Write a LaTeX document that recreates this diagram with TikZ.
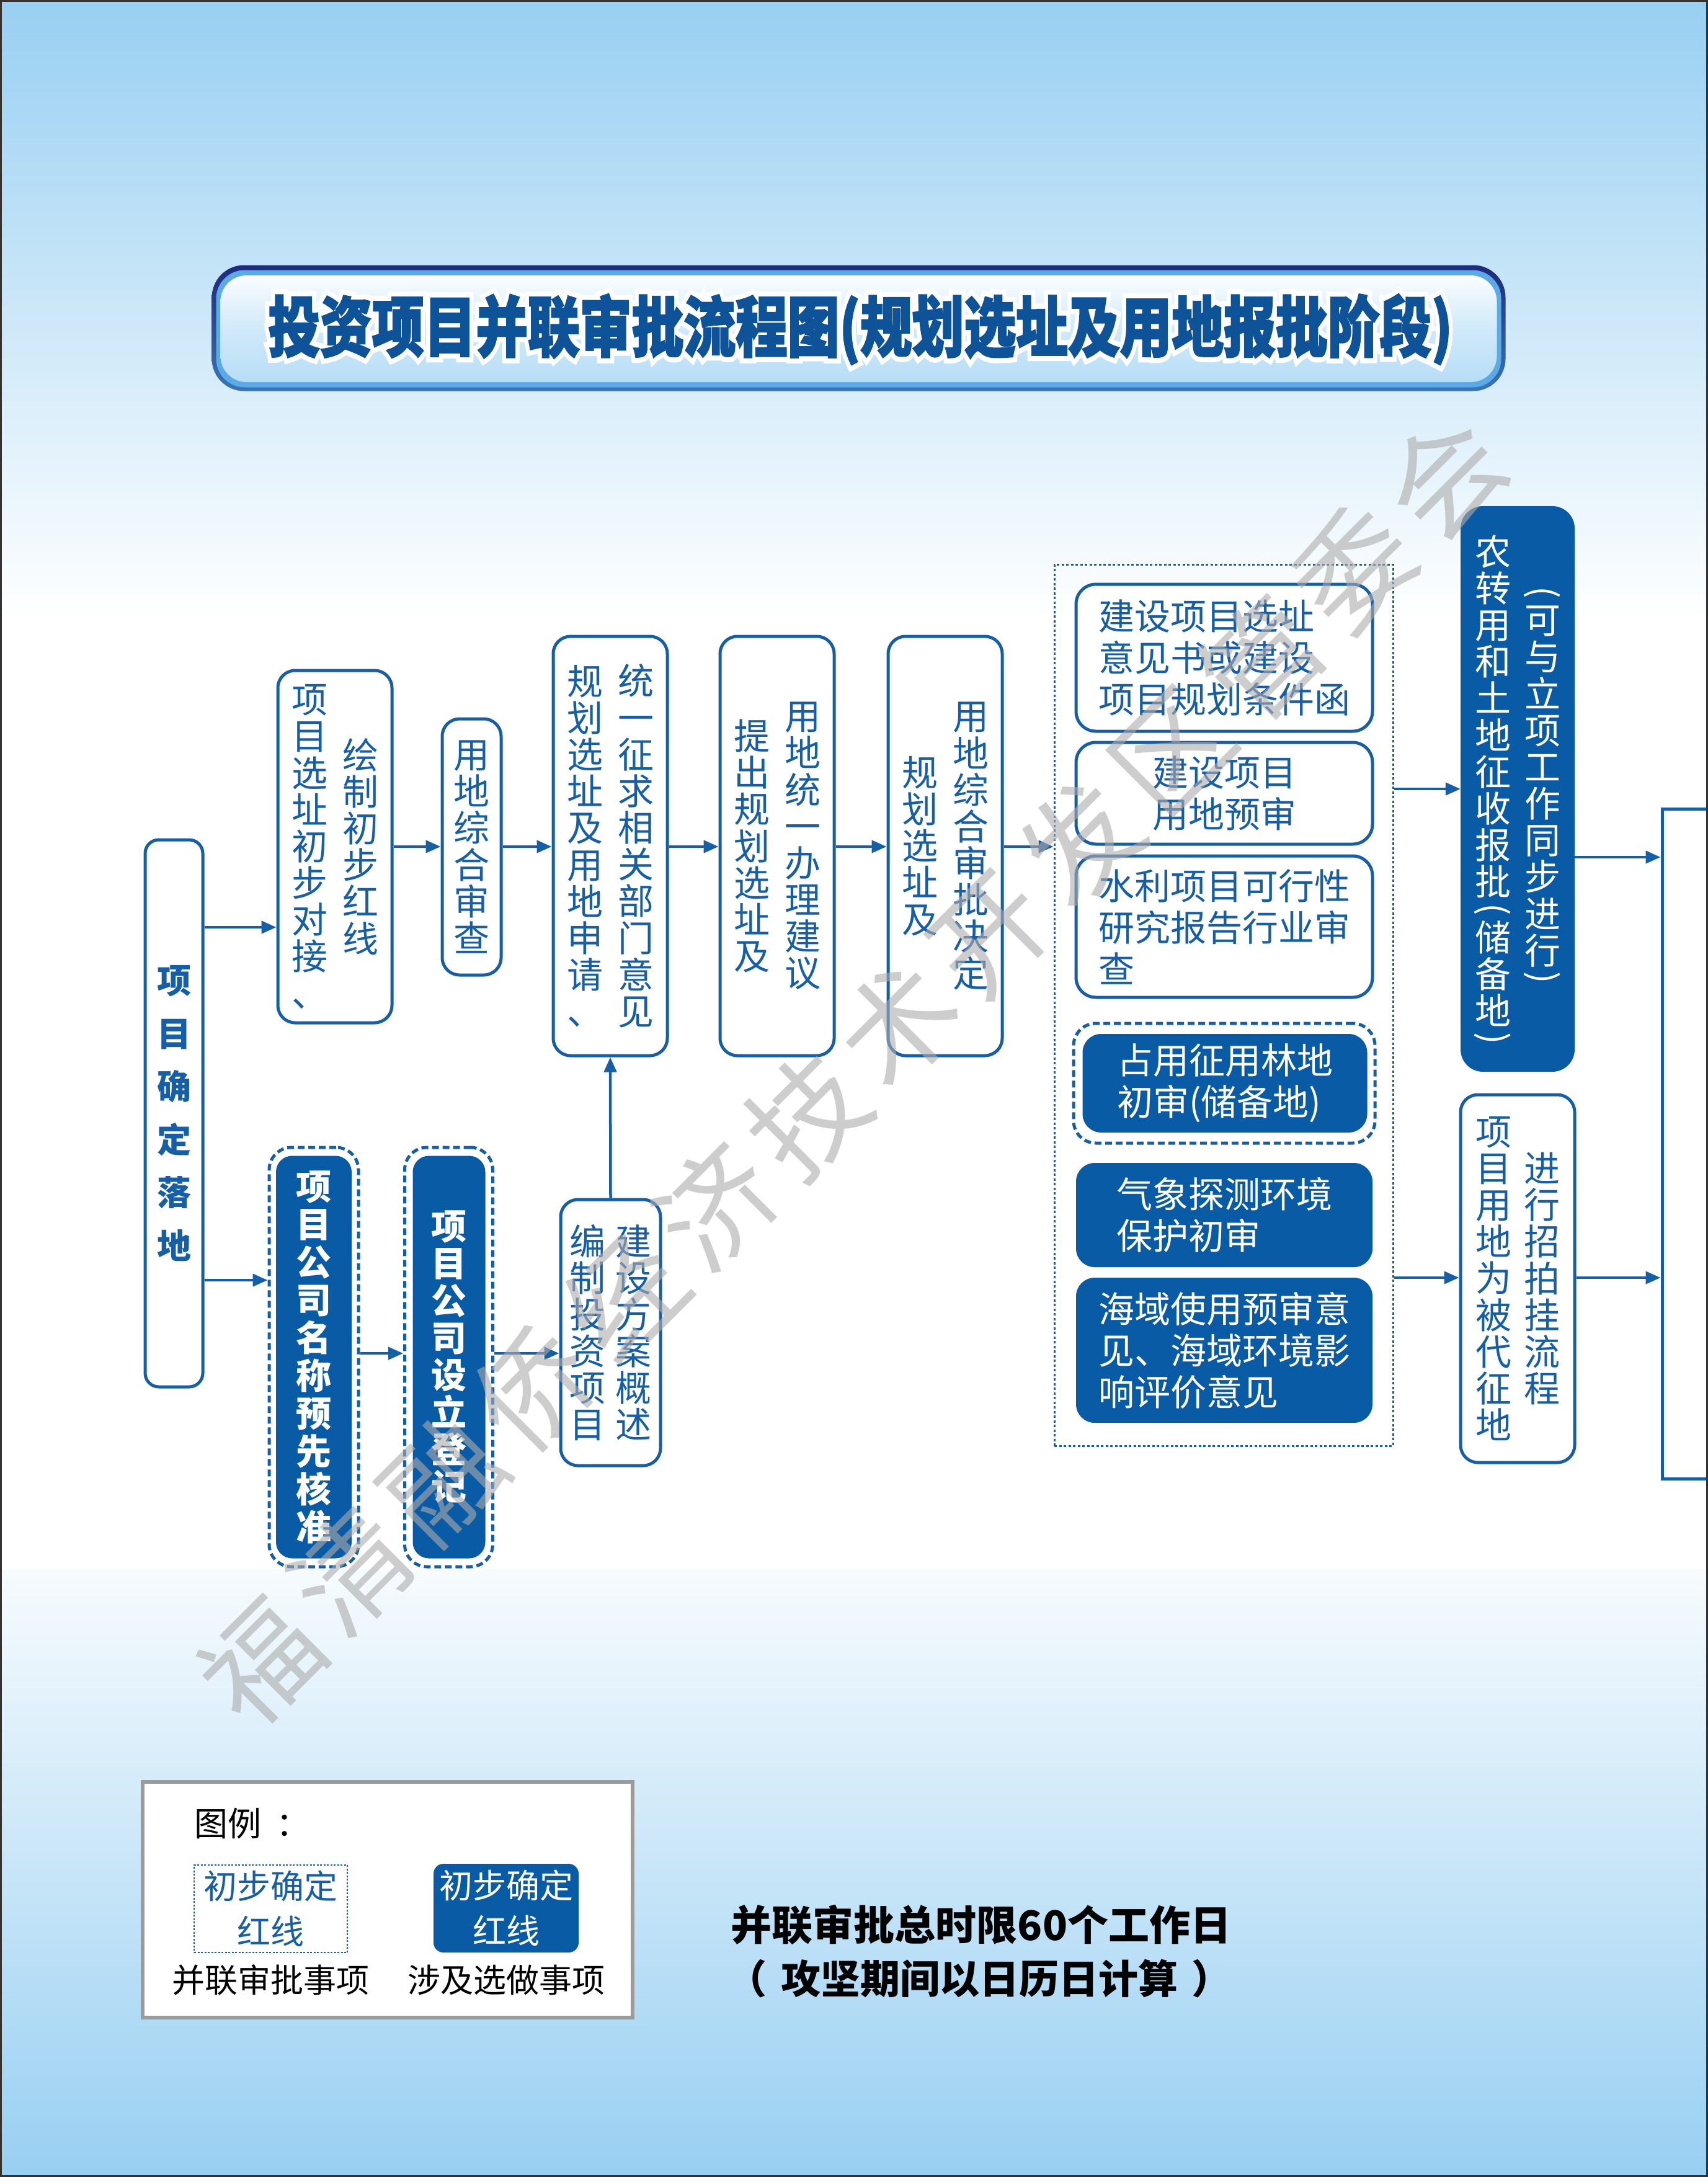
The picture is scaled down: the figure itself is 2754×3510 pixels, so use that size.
\documentclass[tikz,border=0pt]{standalone}
\usepackage{fontspec}
\usepackage{graphicx}
\setmainfont{Noto Sans CJK SC}
\usetikzlibrary{arrows.meta}
\definecolor{mb}{RGB}{22,94,166}
\definecolor{fb}{RGB}{10,91,165}
\definecolor{bgblue}{RGB}{152,207,242}
\definecolor{navy}{RGB}{30,42,125}
\definecolor{ringblue}{RGB}{90,170,232}
\definecolor{titleblue}{RGB}{14,82,152}
\definecolor{leggray}{RGB}{155,155,155}
\definecolor{wmgray}{RGB}{172,172,172}

\ExplSyntaxOn
\dim_new:N \l__vc_skip_dim
\cs_new_protected:Npn \__vc_paren:n #1
  {
    \vskip -0.25em
    \hbox_to_wd:nn {1em} { \hss \raisebox{0.07em}{\rotatebox[origin=c]{-90}{#1}} \hss }
    \vskip -0.25em
  }
\cs_new_protected:Npn \__vc_item:n #1
  {
    \str_case:nnF {#1}
      {
        { ( } { \__vc_paren:n { ( } }
        { ) } { \__vc_paren:n { ) } }
      }
      { \hbox_to_wd:nn {1em} { \hss #1 \hss } }
  }
\NewDocumentCommand \vcol { O{1.02em} m }
  {
    \parbox[c]{1em}
      {
        \dim_set:Nn \l__vc_skip_dim {#1}
        \skip_set:Nn \baselineskip { \l__vc_skip_dim }
        \dim_set:Nn \lineskiplimit { -1000pt }
        \skip_set:Nn \lineskip { 0pt }
        \tl_map_inline:nn {#2} { \__vc_item:n {##1} }
      }
  }
\NewDocumentCommand \spreadtext { m m }
  { \tl_map_inline:nn {#2} { \makebox[#1]{##1} } }
\ExplSyntaxOff
\newcommand{\twocol}[3][24pt]{\vcol{#2}\hspace{#1}\vcol{#3}}
\newcommand{\titletext}[1]{\scalebox{0.79}[1]{\bfseries\fontsize{106}{110}\selectfont\addfontfeature{FakeBold=#1}投资项目并联审批流程图(规划选址及用地报批阶段)}}

\begin{document}
\begin{tikzpicture}[x=1pt,y=-1pt,
  wbox/.style={draw=mb, line width=5pt, fill=white, rounded corners=28pt, inner sep=0pt, text=mb, font=\fontsize{58}{59}\selectfont},
  bluebox/.style={draw=none, fill=fb, rounded corners=30pt, inner sep=0pt, text=white, font=\fontsize{58}{59}\selectfont},
  dashbox/.style={draw=mb, line width=5pt, dash pattern=on 11pt off 6pt, rounded corners=36pt, inner sep=0pt},
  gtext/.style={align=left, font=\fontsize{58}{67}\selectfont},
  arr/.style={draw=mb, line width=4.5pt, -{Triangle[length=24pt,width=20pt]}},
  legtext/.style={inner sep=0pt, text=black, font=\fontsize{53}{60}\selectfont}
]
\useasboundingbox (0,0) rectangle (2754,3510);
\clip (0,0) rectangle (2754,3510);
% background
\shade[top color=bgblue, bottom color=white] (0,0) rectangle (2754,1000);
\fill[white] (0,999) rectangle (2754,2531);
\shade[top color=white!92!bgblue, bottom color=bgblue] (0,2530) rectangle (2754,3510);

% title banner
\node[rounded corners=52pt, minimum width=2086pt, minimum height=203pt, inner sep=0pt, top color=navy, bottom color=mb!85!white] (banner) at (1384.5,529) {};
\node[rounded corners=46pt, minimum width=2072pt, minimum height=189pt, inner sep=0pt, fill=ringblue] (ring) at (1384.5,530) {};
\node[rounded corners=42pt, minimum width=2058pt, minimum height=172pt, inner sep=0pt, top color=white!95!bgblue, bottom color=bgblue!70!white, middle color=bgblue!45!white] (gloss) at (1384.5,530) {};
\node[text=white, inner sep=0pt] (Tw) at (1387,531) {\titletext{18}};
\node[text=titleblue, inner sep=0pt] (T) at (1387,531) {\titletext{2.5}};

% left column
\node[wbox, minimum width=93pt, minimum height=882pt, rounded corners=22pt, font=\bfseries\fontsize{55}{60}\selectfont] (A) at (280.5,1795) {\vcol[85.5pt]{项目确定落地}};

% top row
\node[wbox, minimum width=184pt, minimum height=568pt] (B) at (540,1365) {\twocol{项目选址初步对接、}{绘制初步红线}};
\node[wbox, minimum width=95pt, minimum height=413pt] (C) at (760.5,1365.5) {\vcol{用地综合审查}};
\node[wbox, minimum width=184pt, minimum height=676pt] (D) at (984,1364) {\twocol{规划选址及用地申请、}{统一征求相关部门意见}};
\node[wbox, minimum width=184pt, minimum height=676pt] (E) at (1253,1364) {\twocol{提出规划选址及}{用地统一办理建议}};
\node[wbox, minimum width=184pt, minimum height=676pt] (F) at (1524,1364) {\twocol{规划选址及}{用地综合审批决定}};

% container
\node[draw=mb, line width=3pt, dash pattern=on 4pt off 3.5pt, minimum width=546pt, minimum height=1421pt, inner sep=0pt] (Cont) at (1973,1620.5) {};
\node[wbox, rounded corners=32pt, minimum width=478pt, minimum height=237pt, gtext] (G1) at (1974,1060.5) {建设项目选址\\意见书或建设\\项目规划条件函};
\node[wbox, rounded corners=32pt, minimum width=478pt, minimum height=164pt, gtext, align=center] (G2) at (1974,1279) {建设项目\\用地预审};
\node[wbox, rounded corners=32pt, minimum width=478pt, minimum height=228pt, gtext] (G3) at (1974,1494) {水利项目可行性\\研究报告行业审\\查};
\node[dashbox, minimum width=486pt, minimum height=193pt] (G4o) at (1974,1746.5) {};
\node[bluebox, gtext, minimum width=459pt, minimum height=159pt] (G4) at (1975,1746.5) {占用征用林地\\初审(储备地)};
\node[bluebox, gtext, minimum width=478pt, minimum height=168pt] (G5) at (1974,1959) {气象探测环境\\保护初审};
\node[bluebox, gtext, minimum width=478pt, minimum height=234pt] (G6) at (1974,2177) {海域使用预审意\\见、海域环境影\\响评价意见};

% right column
\node[bluebox, rounded corners=36pt, minimum width=184pt, minimum height=912pt] (H) at (2447,1272) {\twocol[22pt]{农转用和土地征收报批(储备地)}{(可与立项工作同步进行)}};
\node[wbox, minimum width=184pt, minimum height=593pt] (I) at (2447,2061.5) {\twocol[20pt]{项目用地为被代征地}{进行招拍挂流程}};
\node[wbox, rounded corners=0pt, minimum width=200pt, minimum height=1080pt] (J) at (2780,1844) {};

% bottom row
\node[dashbox, minimum width=144pt, minimum height=676pt] (Ko) at (506,2188) {};
\node[bluebox, rounded corners=26pt, minimum width=122pt, minimum height=649pt, font=\bfseries\fontsize{57}{60}\selectfont] (K) at (506,2188) {\vcol[61pt]{项目公司名称预先核准}};
\node[dashbox, minimum width=142pt, minimum height=676pt] (Lo) at (723.5,2188) {};
\node[bluebox, rounded corners=26pt, minimum width=117pt, minimum height=649pt, font=\bfseries\fontsize{57}{60}\selectfont] (L) at (724,2188) {\vcol[60pt]{项目公司设立登记}};
\node[wbox, minimum width=161pt, minimum height=429pt] (M) at (984.5,2148.5) {\twocol[16pt]{编制投资项目}{建设方案概述}};

% rows for connectors
\coordinate (rAB) at (0,1495);
\coordinate (rAK) at (0,2064);
\coordinate (rKL) at (0,2182);
\coordinate (rCH) at (0,1272);
\coordinate (rCI) at (0,2060);
\coordinate (rHJ) at (0,1382);

% connectors
\draw[arr] (A.east |- rAB) -- (B.west |- rAB);
\draw[arr] (A.east |- rAK) -- (Ko.west |- rAK);
\draw[arr] (B.east) -- (C.west |- B.east);
\draw[arr] (C.east |- B.east) -- (D.west |- B.east);
\draw[arr] (D.east |- B.east) -- (E.west |- B.east);
\draw[arr] (E.east |- B.east) -- (F.west |- B.east);
\draw[arr] (F.east |- B.east) -- (Cont.west |- B.east);
\draw[arr] (Cont.east |- rCH) -- (H.west |- rCH);
\draw[arr] (Cont.east |- rCI) -- (I.west |- rCI);
\draw[arr] (H.east |- rHJ) -- (J.west |- rHJ);
\draw[arr] (I.east |- rCI) -- (J.west |- rCI);
\draw[arr] (Ko.east |- rKL) -- (Lo.west |- rKL);
\draw[arr] (Lo.east |- rKL) -- (M.west |- rKL);
\draw[arr] (M.north) -- (D.south);

% legend
\node[draw=leggray, line width=6pt, fill=white, minimum width=790pt, minimum height=380pt, inner sep=0pt] (Leg) at (625,3063) {};
\node[legtext, font=\fontsize{54}{60}\selectfont, anchor=west] (legtitle) at (313,2940) {图例\kern0.45em：};
\node[draw=mb, line width=2.5pt, dash pattern=on 3pt off 2.5pt, fill=white, minimum width=247pt, minimum height=141pt, inner sep=0pt, text=mb, align=center, font=\fontsize{54}{73}\selectfont] (LegA) at (436.5,3077.5) {初步确定\\红线};
\node[fill=fb, rounded corners=16pt, minimum width=234pt, minimum height=143pt, inner sep=0pt, text=white, align=center, font=\fontsize{54}{73}\selectfont] (LegB) at (816,3076.5) {初步确定\\红线};
\node[legtext] (legA) at (436,3192) {并联审批事项};
\node[legtext] (legB) at (816,3192) {涉及选做事项};

% totals
\node[inner sep=0pt, font=\bfseries\fontsize{66}{70}\selectfont] (tot1) at (1582,3103) {并联审批总时限60个工作日};
\node[inner sep=0pt, font=\bfseries\fontsize{64}{70}\selectfont] (tot2) at (1579,3190) {（\kern0.35em 攻坚期间以日历日计算\kern0.35em）};

% watermark
\node[rotate=45, text=wmgray, opacity=0.6, inner sep=0pt] (wm) at (1374.5,1724.5) {\fontsize{185}{190}\selectfont\spreadtext{207.7pt}{福清融侨经济技术开发区管委会}};

% frame
\draw[line width=6pt, black!80] (0,0) rectangle (2754,3510);
\end{tikzpicture}
\end{document}
